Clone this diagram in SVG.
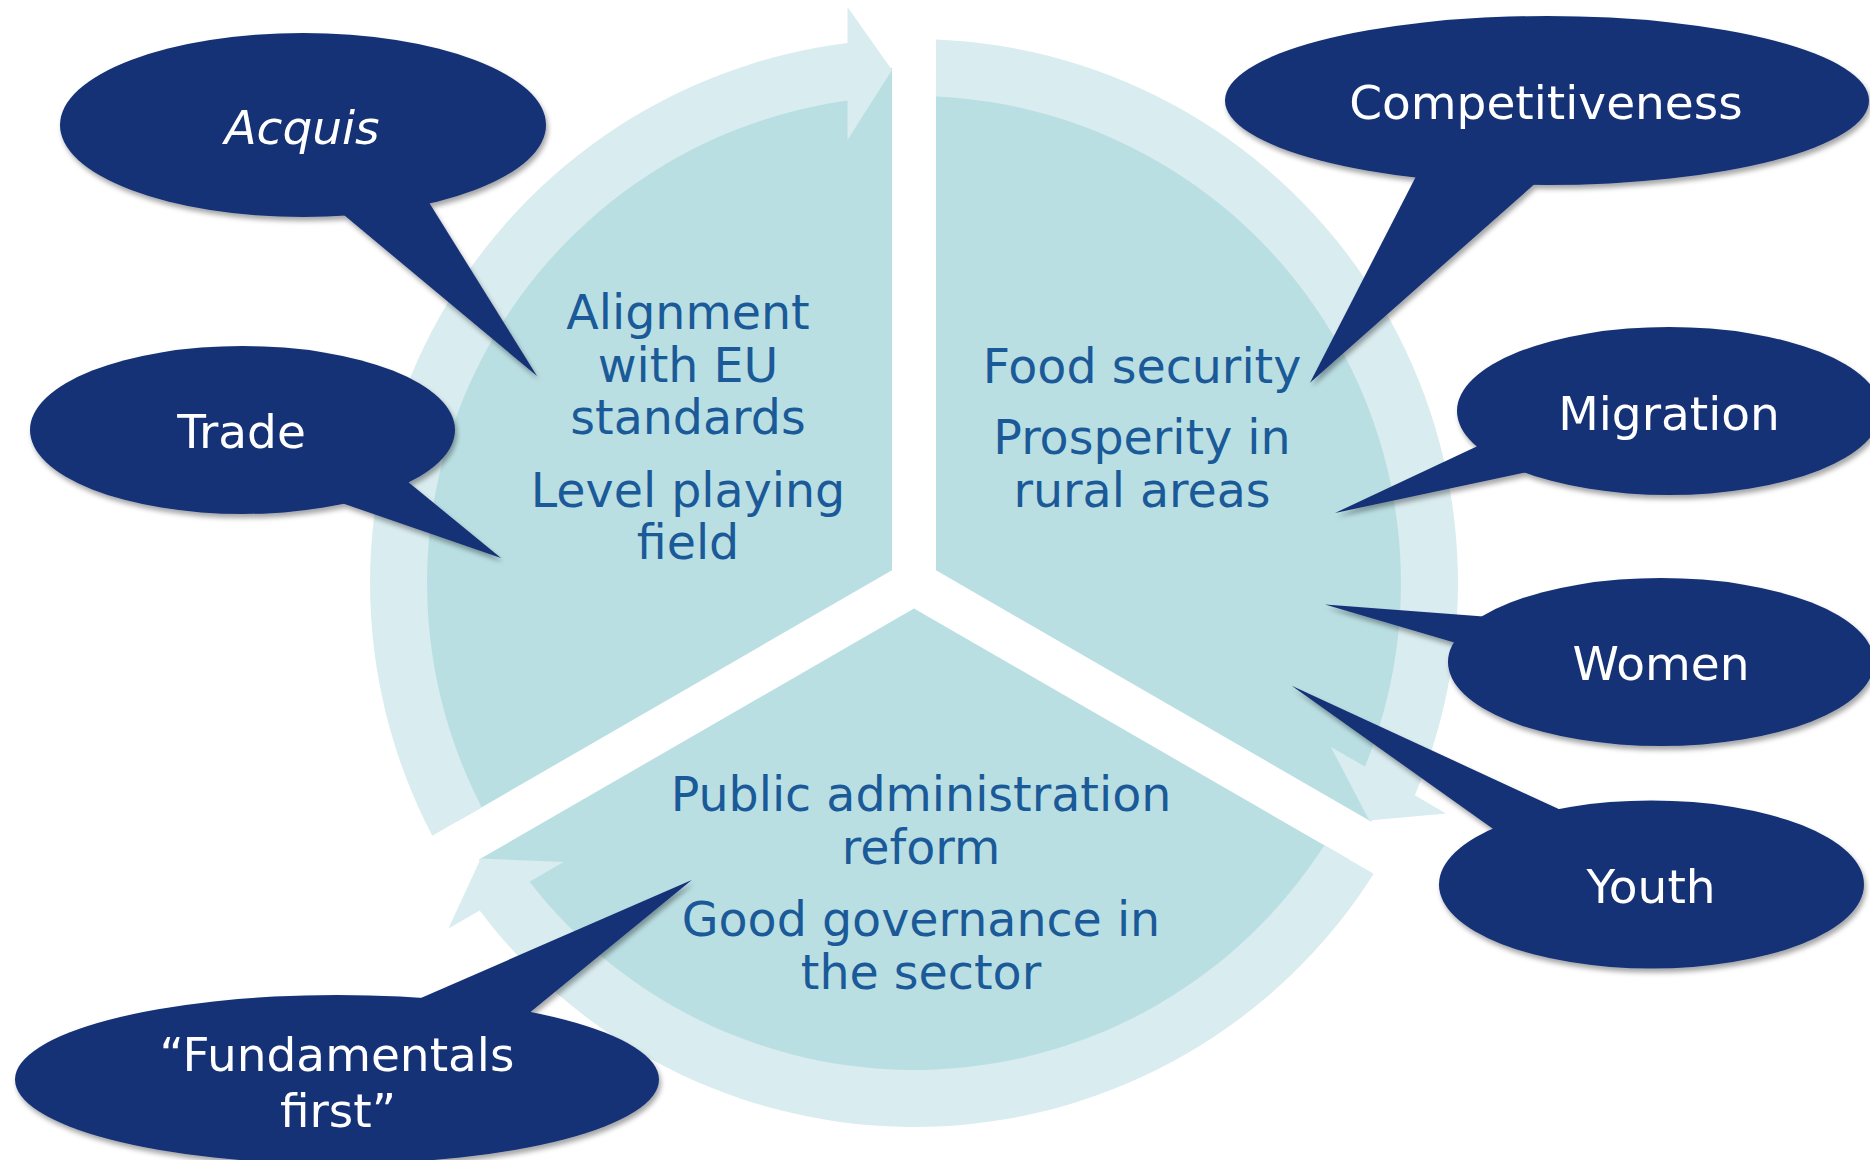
<svg xmlns="http://www.w3.org/2000/svg" xmlns:xlink="http://www.w3.org/1999/xlink" width="1870" height="1160" viewBox="0 0 1870 1160">
  <style>
    .ring { fill: #d9ecef; }
    .pie { fill: #badfe3; }
    .seg-text { font-family: "DejaVu Sans", Verdana, sans-serif; font-size: 47.5px; fill: #1b5a98; text-anchor: middle; }
    .bubble { fill: #153176; }
    .bubble-text { font-family: "DejaVu Sans", Verdana, sans-serif; font-size: 47px; fill: #ffffff; text-anchor: middle; }
  </style>
  <defs>
    <filter id="shadow" x="-10%" y="-10%" width="125%" height="130%">
      <feDropShadow dx="2" dy="4" stdDeviation="2.5" flood-color="#000000" flood-opacity="0.35"/>
    </filter>
    <g id="segShape">
      <path class="pie" d="M 892 570.3 L 892 68 A 515.5 515.5 0 0 0 457 821.5 Z"/>
      <path class="ring" d="M 847.5 43.1 L 847.5 7 L 892 70 L 847.5 140 L 847.5 100.6 A 487 487 0 0 0 481.7 807.2 L 432.3 835.7 A 544 544 0 0 1 847.5 43.1 Z"/>
    </g>
  </defs>
  <rect width="1870" height="1160" fill="#ffffff"/>

  <g id="seg-left">
    <use xlink:href="#segShape" href="#segShape"/>
    <text class="seg-text" x="688" y="329">Alignment</text>
    <text class="seg-text" x="688" y="382">with EU</text>
    <text class="seg-text" x="688" y="434">standards</text>
    <text class="seg-text" x="688" y="507">Level playing</text>
    <text class="seg-text" x="688" y="559">field</text>
  </g>
  <g id="seg-right">
    <use xlink:href="#segShape" href="#segShape" transform="rotate(120 914 583)"/>
    <text class="seg-text" x="1142" y="383">Food security</text>
    <text class="seg-text" x="1142" y="454">Prosperity in</text>
    <text class="seg-text" x="1142" y="507">rural areas</text>
  </g>
  <g id="seg-bottom">
    <use xlink:href="#segShape" href="#segShape" transform="rotate(240 914 583)"/>
    <text class="seg-text" x="921" y="811">Public administration</text>
    <text class="seg-text" x="921" y="864">reform</text>
    <text class="seg-text" x="921" y="936">Good governance in</text>
    <text class="seg-text" x="921" y="989">the sector</text>
  </g>

  <g id="connectors"></g>

  <g id="bubble-acquis" filter="url(#shadow)">
    <ellipse class="bubble" cx="303" cy="125" rx="243" ry="92"/>
    <polygon class="bubble" points="338,210 537,376 427.5,200 303,125"/>
    <text class="bubble-text" x="302" y="143.5" font-style="italic">Acquis</text>
  </g>
  <g id="bubble-trade" filter="url(#shadow)">
    <ellipse class="bubble" cx="242.5" cy="430" rx="212.5" ry="84"/>
    <polygon class="bubble" points="405.7,480 501,558 338.7,502 242.5,430"/>
    <text class="bubble-text" x="241.5" y="448">Trade</text>
  </g>
  <g id="bubble-competitiveness" filter="url(#shadow)">
    <ellipse class="bubble" cx="1547" cy="100.5" rx="322" ry="84.5"/>
    <polygon class="bubble" points="1416.7,175 1310,382.7 1538,181 1547,100.5"/>
    <text class="bubble-text" x="1546" y="119">Competitiveness</text>
  </g>
  <g id="bubble-migration" filter="url(#shadow)">
    <ellipse class="bubble" cx="1669" cy="411" rx="212" ry="84"/>
    <polygon class="bubble" points="1482,444 1335,513 1532,471 1669,411"/>
    <text class="bubble-text" x="1669" y="430">Migration</text>
  </g>
  <g id="bubble-women" filter="url(#shadow)">
    <ellipse class="bubble" cx="1661" cy="662" rx="213" ry="84"/>
    <polygon class="bubble" points="1490,617 1325,604.5 1456,643 1661,662"/>
    <text class="bubble-text" x="1661" y="680">Women</text>
  </g>
  <g id="bubble-youth" filter="url(#shadow)">
    <ellipse class="bubble" cx="1651.5" cy="884.5" rx="212.5" ry="84"/>
    <polygon class="bubble" points="1563,811 1291.7,685.7 1496,831 1651.5,884.5"/>
    <text class="bubble-text" x="1651" y="903">Youth</text>
  </g>
  <g id="bubble-fundamentals" filter="url(#shadow)">
    <ellipse class="bubble" cx="337" cy="1079.5" rx="322" ry="84.5"/>
    <polygon class="bubble" points="414,1001 691.8,880 528,1014 337,1079.5"/>
    <text class="bubble-text" x="337" y="1071">“Fundamentals</text>
    <text class="bubble-text" x="338" y="1127">first”</text>
  </g>
</svg>
